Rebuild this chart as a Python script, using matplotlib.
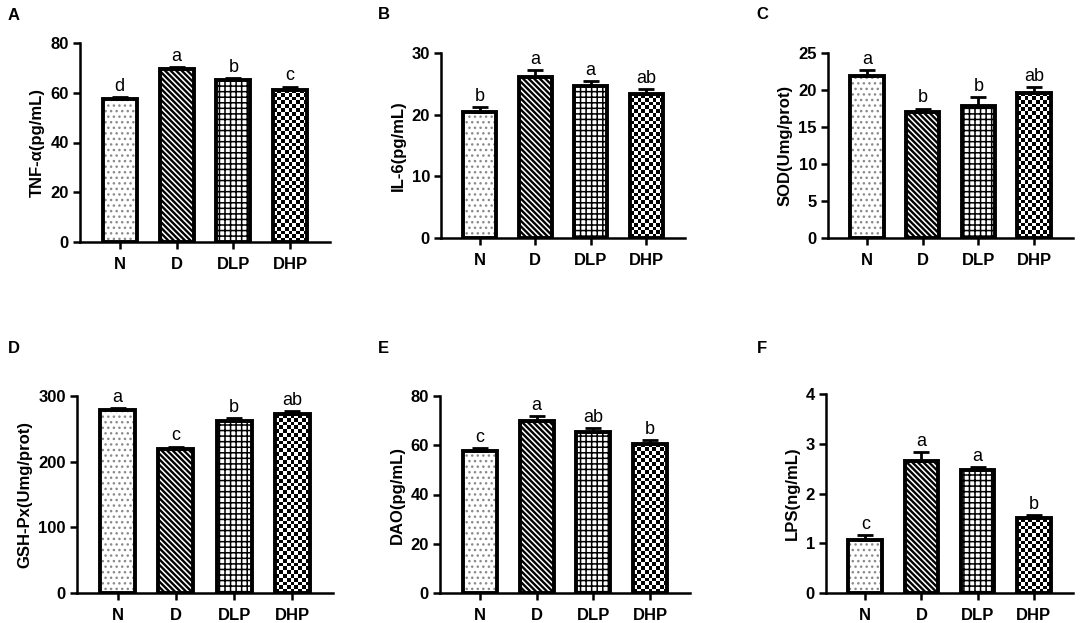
import matplotlib
matplotlib.use("Agg")
import matplotlib.pyplot as plt
import numpy as np

plt.rcParams["font.family"] = ["Liberation Sans", "DejaVu Sans"]

groups = ["N", "D", "DLP", "DHP"]

tnf = [57.4, 69.5, 65.0, 61.2]
tnf_err = [0.8, 0.9, 1.0, 1.3]
tnf_sig = ["d", "a", "b", "c"]

il6 = [20.4, 26.1, 24.7, 23.3]
il6_err = [0.8, 1.1, 0.7, 0.8]
il6_sig = ["b", "a", "a", "ab"]

sod = [21.9, 17.0, 17.9, 19.6]
sod_err = [0.8, 0.5, 1.1, 0.8]
sod_sig = ["a", "b", "b", "ab"]

gsh = [278, 219.7, 261.8, 272]
gsh_err = [3.6, 3.3, 4.6, 4.5]
gsh_sig = ["a", "c", "b", "ab"]

dao = [57.5, 69.7, 65.3, 60.6]
dao_err = [1.4, 2.2, 1.8, 1.4]
dao_sig = ["c", "a", "ab", "b"]

lps = [1.06, 2.65, 2.47, 1.50]
lps_err = [0.11, 0.19, 0.07, 0.06]
lps_sig = ["c", "a", "a", "b"]

W, H = 1084, 623

# hatch, hatch colour, hatch line width for N, D, DLP (DHP gets a checkerboard)
hatch_styles = [("...", "#8a8a8a", 1.0),
                ("\\" * 6, "black", 1.7),
                ("+++", "black", 1.1)]


def checker_fill(ax, bar, cell_px=3.8):
    x0, y0 = bar.get_x(), bar.get_y()
    w, h = bar.get_width(), bar.get_height()
    p0 = ax.transData.transform((x0, y0))
    p1 = ax.transData.transform((x0 + w, y0 + h))
    nx = max(1, int(round((p1[0] - p0[0]) / cell_px)))
    ny = max(1, int(round((p1[1] - p0[1]) / cell_px)))
    board = np.add.outer(np.arange(ny), np.arange(nx)) % 2
    im = ax.imshow(board, cmap="gray", extent=(x0, x0 + w, y0, y0 + h),
                   origin="lower", aspect="auto", interpolation="nearest",
                   zorder=2)
    im.set_clip_path(bar)


def draw_panel(fig, rect, values, errors, sig, ylabel, ymax, ystep):
    ax = fig.add_axes(rect)
    x = np.arange(len(groups))
    ax.set_xlim(-0.7, 3.7)
    ax.set_ylim(0, ymax)

    for i, (ht, hc, hlw) in enumerate(hatch_styles):
        with plt.rc_context({"hatch.linewidth": hlw}):
            ax.bar(x[i], values[i], 0.6, color="white", edgecolor=hc,
                   linewidth=0, hatch=ht, zorder=2)
    dhp = ax.bar(x[3], values[3], 0.6, color="white", linewidth=0, zorder=2)
    checker_fill(ax, dhp[0])

    ax.bar(x, values, 0.6, fill=False, edgecolor="black", linewidth=2.8,
           zorder=3)
    ax.errorbar(x, values, yerr=[np.zeros(len(values)), errors], fmt="none",
                ecolor="black", elinewidth=2, capsize=6, capthick=2,
                zorder=3)

    for xi, v, e, s in zip(x, values, errors, sig):
        ax.annotate(s, (xi, v + e), xytext=(0, 1.5), textcoords="offset points",
                    ha="center", va="bottom", fontsize=13)

    yt = np.arange(0, ymax + ystep / 2, ystep)
    ax.set_xticks(x)
    ax.set_xticklabels(groups, fontweight="bold", fontsize=12)
    ax.set_yticks(yt)
    ax.set_yticklabels([f"{t:g}" for t in yt], fontweight="bold", fontsize=12)
    ax.set_ylabel(ylabel, fontweight="bold", fontsize=12, labelpad=4)
    ax.tick_params(axis="both", direction="out", length=5, width=1.8, pad=3)
    ax.tick_params(axis="x", pad=6)
    ax.spines["top"].set_visible(False)
    ax.spines["right"].set_visible(False)
    ax.spines["left"].set_linewidth(1.8)
    ax.spines["bottom"].set_linewidth(1.8)
    return ax


def px_rect(left, right, top, bottom):
    return [left / W, 1 - bottom / H, (right - left) / W, (bottom - top) / H]


fig = plt.figure(figsize=(W / 100, H / 100), dpi=100)

draw_panel(fig, px_rect(80, 330, 43, 242), tnf, tnf_err, tnf_sig,
           "TNF-α(pg/mL)", 80, 20)
draw_panel(fig, px_rect(441, 685, 53, 238), il6, il6_err, il6_sig,
           "IL-6(pg/mL)", 30, 10)
draw_panel(fig, px_rect(828, 1073, 53, 238), sod, sod_err, sod_sig,
           "SOD(Umg/prot)", 25, 5)
draw_panel(fig, px_rect(77, 333, 396, 593), gsh, gsh_err, gsh_sig,
           "GSH-Px(Umg/prot)", 300, 100)
draw_panel(fig, px_rect(440, 690, 396, 593), dao, dao_err, dao_sig,
           "DAO(pg/mL)", 80, 20)
draw_panel(fig, px_rect(826, 1073, 394, 593), lps, lps_err, lps_sig,
           "LPS(ng/mL)", 4, 1)

panel_letters = [("A", 8, 20), ("B", 378, 19), ("C", 756, 19),
                 ("D", 8, 353), ("E", 378, 353), ("F", 757, 353)]
for letter, px, py in panel_letters:
    fig.text(px / W, 1 - py / H, letter, fontweight="bold", fontsize=12,
             ha="left", va="baseline")

fig.savefig("out.png", dpi=100)
